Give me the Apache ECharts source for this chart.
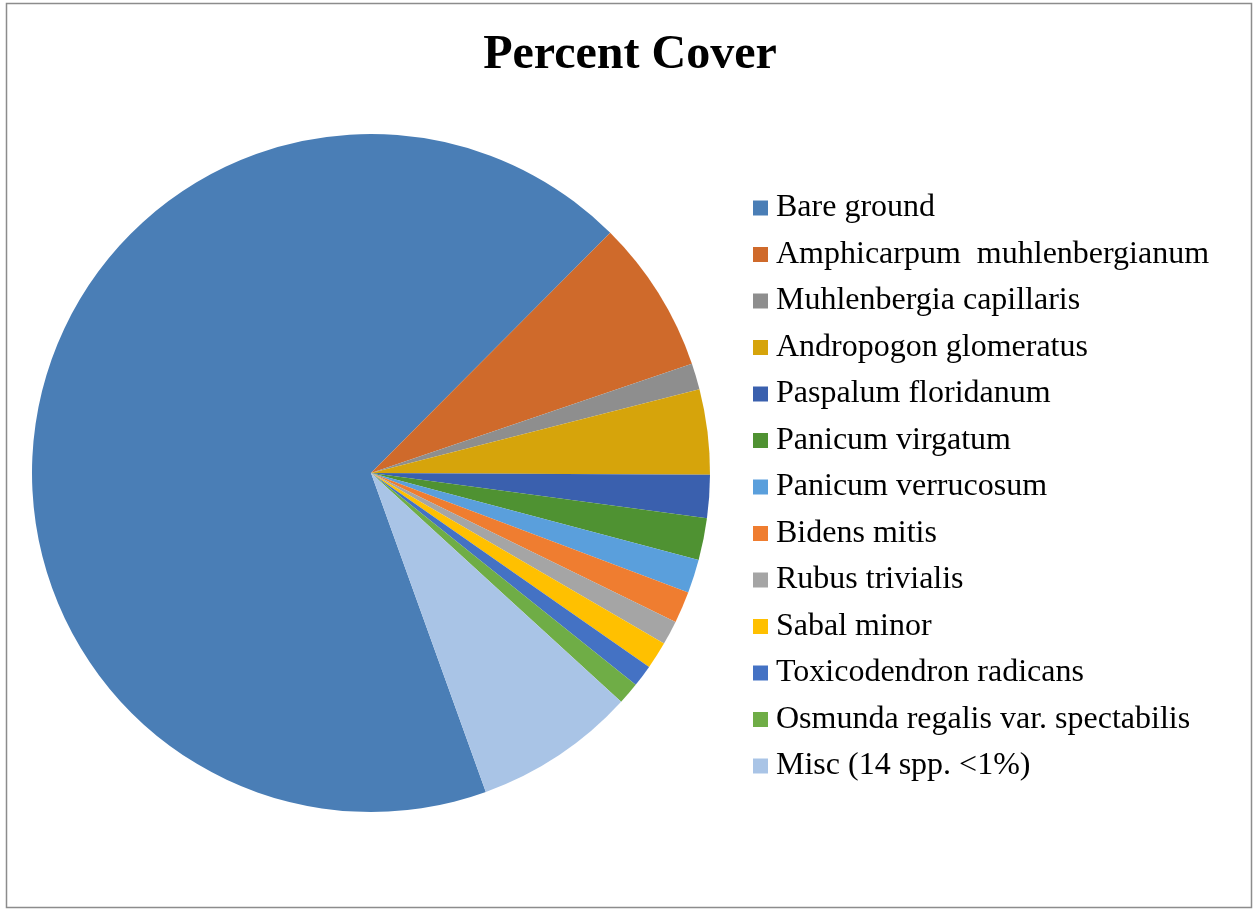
<!DOCTYPE html>
<html>
<head>
<meta charset="utf-8">
<script src="https://cdn.jsdelivr.net/npm/echarts@6/dist/echarts.min.js"></script>
<style>
  html, body { margin: 0; padding: 0; background: #ffffff; }
  #chart { width: 1254px; height: 909px; }
</style>
</head>
<body>
<div id="chart"></div>
<script>
// Percent cover by category
const categories = [
  'Bare ground',
  'Amphicarpum  muhlenbergianum',
  'Muhlenbergia capillaris',
  'Andropogon glomeratus',
  'Paspalum floridanum',
  'Panicum virgatum',
  'Panicum verrucosum',
  'Bidens mitis',
  'Rubus trivialis',
  'Sabal minor',
  'Toxicodendron radicans',
  'Osmunda regalis var. spectabilis',
  'Misc (14 spp. <1%)'
];
const coverValues = [67.9, 7.3, 1.25, 4.05, 2.05, 2.0, 1.6, 1.5, 1.15, 1.3, 1.05, 1.05, 7.7];
const sliceColors = [
  '#4a7eb6', '#cf6a2b', '#8e8e8e', '#d6a40b', '#3a60ae', '#4f9232',
  '#5a9fdc', '#ef7d30', '#a5a5a5', '#ffc000', '#4472c4', '#6fad46', '#a9c4e6'
];

const chart = echarts.init(document.getElementById('chart'), null, { renderer: 'canvas' });

const pieData = categories.map((name, i) => ({
  name: name,
  value: coverValues[i],
  itemStyle: { color: sliceColors[i] }
}));

chart.setOption({
  backgroundColor: '#ffffff',
  animation: false,
  title: {
    text: 'Percent Cover',
    left: 630,
    top: 32,
    padding: 0,
    textAlign: 'center',
    textStyle: {
      fontFamily: '"Liberation Serif", "Times New Roman", serif',
      fontWeight: 'bold',
      fontSize: 48,
      color: '#000000'
    }
  },
  legend: {
    orient: 'vertical',
    left: 753,
    top: 192,
    padding: 0,
    icon: 'rect',
    itemWidth: 15,
    itemHeight: 15,
    itemGap: 14.5,
    selectedMode: false,
    textStyle: {
      fontFamily: '"Liberation Serif", "Times New Roman", serif',
      fontSize: 32,
      lineHeight: 32,
      color: '#000000',
      padding: [0, 0, 0, 3]
    },
    data: categories
  },
  graphic: [{
    type: 'rect',
    shape: { x: 6.5, y: 3.5, width: 1245, height: 904 },
    style: { fill: 'none', stroke: '#8c8c8c', lineWidth: 1.5 },
    silent: true
  }],
  series: [{
    type: 'pie',
    center: [371, 473],
    radius: 339,
    startAngle: -70.2,
    clockwise: true,
    label: { show: false },
    labelLine: { show: false },
    emphasis: { disabled: true },
    itemStyle: { borderWidth: 0 },
    data: pieData
  }]
});
</script>
</body>
</html>
